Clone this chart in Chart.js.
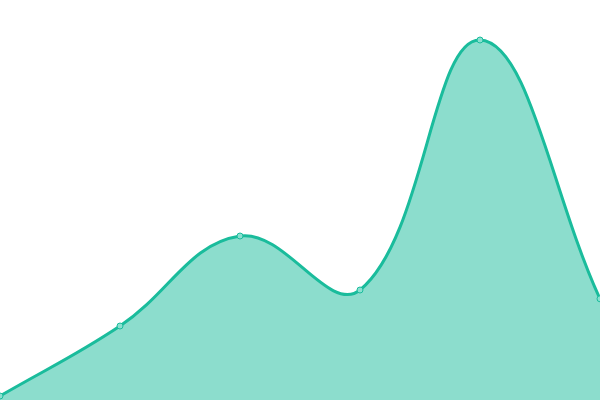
<!DOCTYPE html>
<html lang="en">
<head>
  <meta charset="UTF-8">
  <title>Area Chart</title>
  <script src="https://cdn.jsdelivr.net/npm/chart.js"></script>
  <style>
    html, body { margin: 0; padding: 0; background: #fff; }
    .chart-container { width: 600px; height: 400px; }
  </style>
</head>
<body>

<div class="chart-container">
  <canvas id="area-chart" width="600" height="400"></canvas>
</div>

<script>
// Data
const labels = ['1', '2', '3', '4', '5', '6'];
const values = [1, 18.5, 41, 27.5, 90, 25.3];

const ctx = document.getElementById('area-chart').getContext('2d');
const areaChart = new Chart(ctx, {
  type: 'line',
  data: {
    labels: labels,
    datasets: [{
      data: values,
      borderColor: '#1abc9c',
      backgroundColor: 'rgba(26, 188, 156, 0.5)',
      borderWidth: 3,
      fill: 'origin',
      tension: 0.4,
      pointRadius: 3,
      pointBackgroundColor: '#8ae0d0',
      pointBorderColor: '#1abc9c',
      pointBorderWidth: 1
    }]
  },
  options: {
    responsive: false,
    animation: false,
    layout: { padding: 0, autoPadding: false },
    plugins: {
      legend: { display: false },
      tooltip: { enabled: false }
    },
    scales: {
      x: { display: false, offset: false },
      y: { display: false, min: 0, max: 100 }
    }
  }
});
</script>

</body>
</html>
